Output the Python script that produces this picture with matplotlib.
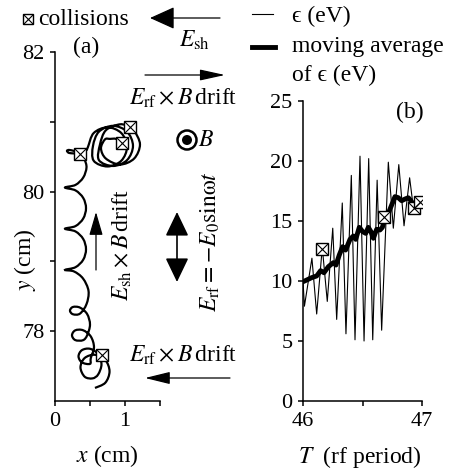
import numpy as np
import matplotlib
matplotlib.use('Agg')
import matplotlib.pyplot as plt
from matplotlib.path import Path
from matplotlib.patches import PathPatch, FancyArrowPatch, Circle

plt.rcParams['font.family'] = ['Liberation Serif', 'DejaVu Serif']
plt.rcParams['mathtext.fontset'] = 'stix'
plt.rcParams['font.size'] = 16

# (a) electron trajectory, x (cm) / y (cm) from bottom to top
traj_x = [0.571, 0.719, 0.779, 0.719, 0.571, 0.424, 0.364, 0.424, 0.536,
          0.616, 0.664, 0.616, 0.500, 0.384, 0.336, 0.384, 0.500,
          0.511, 0.557, 0.511, 0.400, 0.289, 0.243, 0.289, 0.400,
          0.459, 0.500, 0.459, 0.357, 0.256, 0.214, 0.256, 0.357,
          0.450, 0.479, 0.400, 0.271, 0.143,
          0.293, 0.403, 0.443, 0.403, 0.293, 0.143,
          0.293, 0.403, 0.443, 0.403, 0.293, 0.143,
          0.293, 0.403, 0.450, 0.421, 0.364,
          0.271, 0.200, 0.171, 0.200, 0.271, 0.357, 0.443,
          0.471, 0.553, 0.750, 0.947, 1.029, 0.947, 0.750, 0.553,
          0.543, 0.627, 0.829, 1.030, 1.114, 1.030, 0.829, 0.627,
          0.643, 0.727, 0.929, 1.071, 1.130, 1.214, 1.130, 0.929, 0.727,
          0.657, 0.714, 0.786, 0.871, 0.953]
traj_y = [77.187, 77.262, 77.424, 77.587, 77.662, 77.616, 77.482, 77.348, 77.324,
          77.380, 77.525, 77.671, 77.748, 77.728, 77.640, 77.553, 77.532,
          77.614, 77.770, 77.925, 78.014, 78.012, 77.942, 77.873, 77.871,
          77.941, 78.094, 78.246, 78.338, 78.347, 78.295, 78.243, 78.252,
          78.388, 78.576, 78.755, 78.856, 78.878,
          78.917, 79.024, 79.173, 79.321, 79.429, 79.468,
          79.506, 79.614, 79.763, 79.909, 80.017, 80.058,
          80.096, 80.201, 80.345, 80.460, 80.532,
          80.547, 80.554, 80.583, 80.597, 80.583, 80.568, 80.590,
          80.640, 80.839, 80.921, 80.839, 80.640, 80.442, 80.360, 80.442,
          80.655, 80.858, 80.942, 80.858, 80.655, 80.452, 80.367, 80.452,
          80.676, 80.879, 80.964, 80.925, 80.879, 80.676, 80.473, 80.388, 80.473,
          80.619, 80.748, 80.755, 80.755, 80.701]
coll_x = [0.667, 0.364, 0.953, 1.071]
coll_y = [77.655, 80.532, 80.701, 80.925]

# (b) energy vs time (extrema of the fast oscillation)
eps_T = [46.000, 46.012, 46.075, 46.115, 46.162, 46.204, 46.250, 46.283,
         46.330, 46.361, 46.406, 46.437, 46.479, 46.513, 46.552, 46.586,
         46.623, 46.661, 46.717, 46.759, 46.805, 46.849, 46.896, 46.930]
eps_val = [10.0, 7.9, 11.9, 7.25, 12.8, 8.3, 14.4, 6.8,
           16.5, 5.6, 18.8, 5.1, 20.4, 5.0, 20.2, 5.1,
           18.4, 5.9, 19.9, 14.4, 19.7, 14.6, 18.6, 15.9]
avg_T = [46.000, 46.031, 46.073, 46.115, 46.148, 46.176, 46.213, 46.255, 46.277,
         46.305, 46.333, 46.358, 46.395, 46.423, 46.443, 46.473, 46.502, 46.527,
         46.549, 46.571, 46.591, 46.619, 46.647, 46.667, 46.689, 46.717, 46.745,
         46.773, 46.801, 46.829, 46.857, 46.885, 46.913]
avg_val = [9.94, 10.08, 10.28, 10.42, 10.86, 10.69, 11.19, 11.53, 11.33,
           12.17, 12.86, 12.58, 13.47, 13.75, 13.47, 14.47, 14.11, 13.97,
           14.47, 14.11, 13.56, 14.31, 14.25, 14.47, 15.22, 15.64, 16.33,
           17.03, 16.94, 16.69, 16.83, 16.94, 16.61]
coll_T = [46.157, 46.681, 46.933, 46.983]
coll_eps = [12.67, 15.36, 16.06, 16.56]


def smooth_path(xs, ys):
    # catmull-rom through the read points, drawn as bezier segments
    pts = np.column_stack([xs, ys])
    verts = [pts[0]]
    codes = [Path.MOVETO]
    n = len(pts)
    for i in range(n - 1):
        p0 = pts[max(i - 1, 0)]
        p1 = pts[i]
        p2 = pts[i + 1]
        p3 = pts[min(i + 2, n - 1)]
        verts += [p1 + (p2 - p0) / 6, p2 - (p3 - p1) / 6, p2]
        codes += [Path.CURVE4] * 3
    return Path(verts, codes)


def collision_marks(ax, xs, ys, ms):
    ax.plot(xs, ys, ls='none', marker='s', ms=ms, mfc='white', mec='black', mew=1.0, zorder=5)
    ax.plot(xs, ys, ls='none', marker='x', ms=ms, mec='black', mew=0.8, zorder=6)


def style_axes(ax):
    for s in ['top', 'right']:
        ax.spines[s].set_visible(False)
    for s in ['left', 'bottom']:
        ax.spines[s].set_linewidth(1.1)
    ax.tick_params(direction='out', length=3.6, width=1.1, labelsize=16, pad=4)


fig = plt.figure(figsize=(4.51, 4.72), dpi=100)

ax_a = fig.add_axes([55 / 451, 71 / 472, 105 / 451, 349 / 472])
ax_a.add_patch(PathPatch(smooth_path(traj_x, traj_y), fill=False, lw=1.6, ec='black'))
collision_marks(ax_a, coll_x, coll_y, 8.2)
ax_a.set_xlim(0, 1.5)
ax_a.set_ylim(77, 82)
ax_a.set_xticks([0, 0.5, 1, 1.5])
ax_a.set_xticklabels(['0', '', '1', ''])
ax_a.set_yticks([78, 79, 80, 81, 82])
ax_a.set_yticklabels(['78', '', '80', '', '82'])
style_axes(ax_a)

ax_b = fig.add_axes([303 / 451, 71 / 472, 119 / 451, 300 / 472])
ax_b.plot(eps_T, eps_val, color='black', lw=0.8)
ax_b.plot(avg_T, avg_val, color='black', lw=3.5, solid_capstyle='round', solid_joinstyle='round')
collision_marks(ax_b, coll_T, coll_eps, 8.8)
ax_b.set_xlim(46, 47)
ax_b.set_ylim(0, 25)
ax_b.set_xticks([46, 46.5, 47])
ax_b.set_xticklabels(['46', '', '47'])
ax_b.set_yticks([0, 5, 10, 15, 20, 25])
style_axes(ax_b)

# overlay in pixel units for the annotations
ov = fig.add_axes([0, 0, 1, 1], zorder=10)
ov.set_xlim(0, 451)
ov.set_ylim(472, 0)
ov.axis('off')


def arrow(p0, p1, hl, hw, style='-|>', lw=0.9):
    ov.add_patch(FancyArrowPatch(p0, p1, arrowstyle=f'{style},head_length={hl},head_width={hw}',
                                 mutation_scale=1, shrinkA=0, shrinkB=0, lw=lw, color='black'))


arrow((220, 18), (150, 18), 15.5, 7.0)
arrow((145, 75), (225, 75), 15.5, 3.4)
arrow((230, 378), (145, 378), 15.5, 3.8)
arrow((96, 270), (96, 212), 14.4, 4.2)
arrow((177, 212), (177, 282), 15.0, 7.2, style='<|-|>', lw=1.2)

ov.add_patch(Circle((187, 140), 9.5, fill=False, lw=1.8, ec='black'))
ov.add_patch(Circle((187, 140), 5, fc='black', ec='none'))
ov.text(198, 140, '$B$', fontsize=17, ha='left', va='center')

collision_marks(ov, [28], [19], 7.6)
ov.text(38, 25, 'collisions', fontsize=17, ha='left', va='baseline')
ov.text(195, 47, r'$E_{\rm sh}$', fontsize=17, ha='center', va='baseline')
ov.text(183, 105, r'$E_{\rm rf}\times B\,$drift', fontsize=17, ha='center', va='baseline')
ov.text(183, 362, r'$E_{\rm rf}\times B\,$drift', fontsize=17, ha='center', va='baseline')
ov.text(122, 245, r'$E_{\rm sh}\times B\,$drift', fontsize=17, ha='center', va='center', rotation=90)
ov.text(210, 242, r'$E_{\rm rf}=-E_0{\rm sin}\mathrm{\omega}t$', fontsize=17, ha='center', va='center', rotation=90)
ov.text(86, 47, '(a)', fontsize=17, ha='center', va='center')
ov.text(410, 112, '(b)', fontsize=17, ha='center', va='center')

ov.plot([252, 273], [14, 14], color='black', lw=0.8)
ov.plot([252, 275], [47, 47], color='black', lw=3.5)
ov.text(292, 22, 'ϵ (eV)', fontsize=17, ha='left', va='baseline')
ov.text(292, 52, 'moving average', fontsize=17, ha='left', va='baseline')
ov.text(292, 81, 'of ϵ (eV)', fontsize=17, ha='left', va='baseline')

ov.text(107, 456, '$x$ (cm)', fontsize=17, ha='center', va='center')
ov.text(360, 457, '$T$  (rf period)', fontsize=17, ha='center', va='center')
ov.text(25, 260, '$y$ (cm)', fontsize=17, ha='center', va='center', rotation=90)

fig.savefig('out.png', dpi=100)
